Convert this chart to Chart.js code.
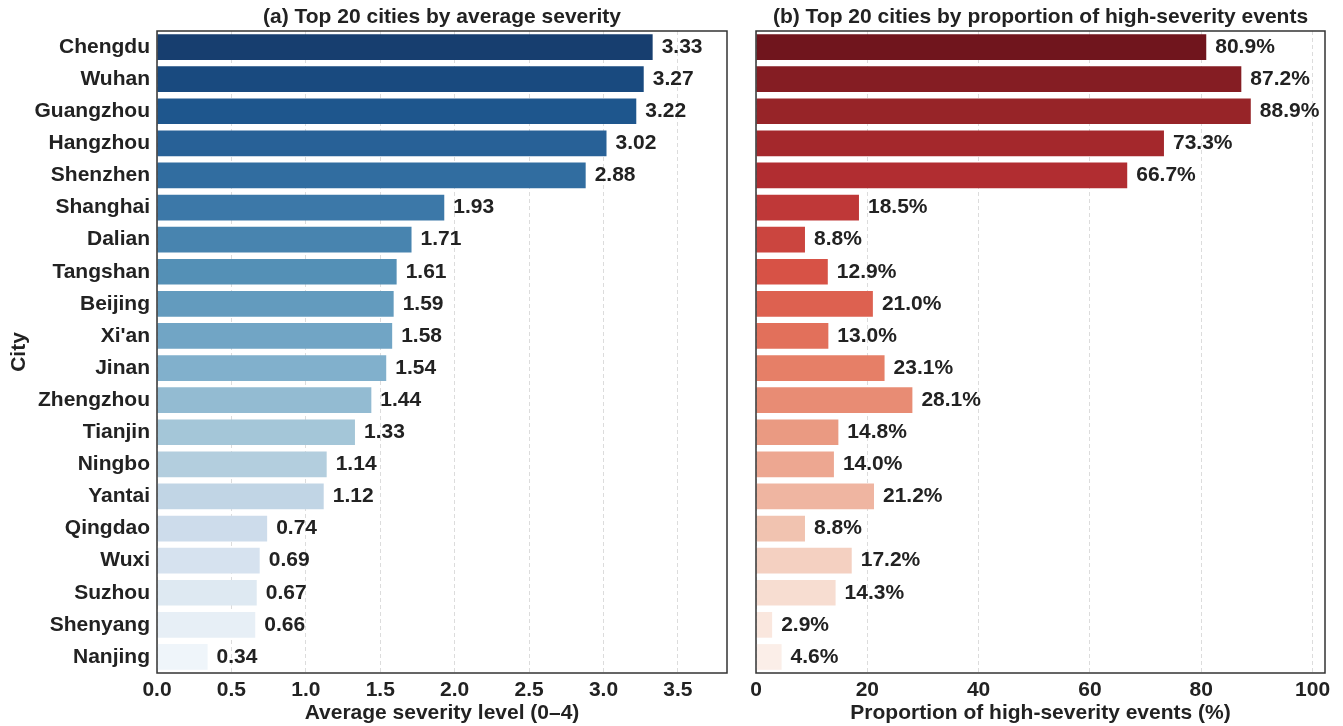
<!DOCTYPE html>
<html>
<head>
<meta charset="utf-8">
<script src="https://cdn.jsdelivr.net/npm/chart.js@4/dist/chart.umd.min.js"></script>
<style>
  html, body { margin: 0; padding: 0; background: #ffffff; }
  #wrap { position: relative; width: 1343px; height: 726px; overflow: hidden; }
  canvas { position: absolute; top: 0; }
  #left { left: 0; }
  #right { left: 740px; }
</style>
</head>
<body>
<div id="wrap">
  <canvas id="left" width="740" height="726"></canvas>
  <canvas id="right" width="603" height="726"></canvas>
</div>
<script>
// City order (ranked by average severity)
const cities = ["Chengdu", "Wuhan", "Guangzhou", "Hangzhou", "Shenzhen", "Shanghai", "Dalian",
  "Tangshan", "Beijing", "Xi'an", "Jinan", "Zhengzhou", "Tianjin", "Ningbo", "Yantai",
  "Qingdao", "Wuxi", "Suzhou", "Shenyang", "Nanjing"];

// Panel (a): average severity level, 0–4 scale
const avgSeverity = [3.33, 3.27, 3.22, 3.02, 2.88, 1.93, 1.71, 1.61, 1.59, 1.58, 1.54, 1.44,
  1.33, 1.14, 1.12, 0.74, 0.69, 0.67, 0.66, 0.34];

// Panel (b): share of high-severity events, percent
const highShare = [80.9, 87.2, 88.9, 73.3, 66.7, 18.5, 8.8, 12.9, 21.0, 13.0, 23.1, 28.1,
  14.8, 14.0, 21.2, 8.8, 17.2, 14.3, 2.9, 4.6];

// Axis tick values
const ticksA = [0, 0.5, 1.0, 1.5, 2.0, 2.5, 3.0, 3.5];
const ticksB = [0, 20, 40, 60, 80, 100];

const titleA = "(a) Top 20 cities by average severity";
const titleB = "(b) Top 20 cities by proportion of high-severity events";
const xTitleA = "Average severity level (0\u20134)";
const xTitleB = "Proportion of high-severity events (%)";

// ---- sequential colour maps (matplotlib Blues / Reds anchors) ----
const BLUES = ["#f7fbff", "#deebf7", "#c6dbef", "#9ecae1", "#6baed6", "#4292c6", "#2171b5", "#08519c", "#08306b"];
const REDS  = ["#fff5f0", "#fee0d2", "#fcbba1", "#fc9272", "#fb6a4a", "#ef3b2c", "#cb181d", "#a50f15", "#67000d"];

function hexToRgb(h) {
  return [parseInt(h.slice(1, 3), 16), parseInt(h.slice(3, 5), 16), parseInt(h.slice(5, 7), 16)];
}
function sampleMap(anchors, t) {
  const n = anchors.length - 1;
  const p = Math.min(Math.max(t, 0), 1) * n;
  const i = Math.min(Math.floor(p), n - 1);
  const f = p - i;
  const a = hexToRgb(anchors[i]), b = hexToRgb(anchors[i + 1]);
  return a.map((v, k) => (v + (b[k] - v) * f) / 255);
}
// scale HLS saturation of an rgb triple (0..1) by `factor`
function desaturate(rgb, factor) {
  const [r, g, b] = rgb;
  const mx = Math.max(r, g, b), mn = Math.min(r, g, b);
  const l = (mx + mn) / 2;
  if (mx === mn) return rgb;
  const d = mx - mn;
  let s = l <= 0.5 ? d / (mx + mn) : d / (2 - mx - mn);
  s *= factor;
  const m2 = l <= 0.5 ? l * (1 + s) : l + s - l * s;
  const m1 = 2 * l - m2;
  // keep hue: map each channel's relative position between min and max
  return rgb.map(v => m1 + (m2 - m1) * (v - mn) / d);
}
// reversed, evenly spaced palette that skips both ends of the map
function paletteReversed(anchors, count) {
  const out = [];
  for (let i = 0; i < count; i++) {
    const t = (count - i) / (count + 1);
    const c = desaturate(sampleMap(anchors, t), 0.75).map(v => Math.round(v * 255));
    out.push(`rgb(${c[0]},${c[1]},${c[2]})`);
  }
  return out;
}

const FONT = "'Liberation Sans', Arial, Helvetica, sans-serif";
const TEXT = "#222222";
const FS = 21;

// Frame around the plotting area plus a centred panel heading
const framePlugin = {
  id: "frame",
  afterDraw(chart, args, opts) {
    const { ctx, chartArea: a } = chart;
    ctx.save();
    ctx.strokeStyle = "#333333";
    ctx.lineWidth = 1.5;
    ctx.strokeRect(a.left, a.top, a.right - a.left, a.bottom - a.top);
    ctx.fillStyle = TEXT;
    ctx.font = `bold ${FS}px ${FONT}`;
    ctx.textAlign = "center";
    ctx.textBaseline = "middle";
    ctx.fillText(opts.heading, (a.left + a.right) / 2, 17);
    ctx.restore();
  }
};

// Value labels at the end of each bar
const valueLabelPlugin = {
  id: "valueLabels",
  afterDatasetsDraw(chart, args, opts) {
    const { ctx } = chart;
    const meta = chart.getDatasetMeta(0);
    const data = chart.data.datasets[0].data;
    ctx.save();
    ctx.fillStyle = TEXT;
    ctx.font = `bold ${FS}px ${FONT}`;
    ctx.textAlign = "left";
    ctx.textBaseline = "middle";
    meta.data.forEach((bar, i) => {
      ctx.fillText(opts.format(data[i]), bar.x + 9, bar.y);
    });
    ctx.restore();
  }
};

function makeChart(canvasId, values, colors, cfg) {
  return new Chart(document.getElementById(canvasId), {
    type: "bar",
    data: {
      labels: cities,
      datasets: [{
        data: values,
        backgroundColor: colors,
        borderWidth: 0,
        categoryPercentage: 0.8,
        barPercentage: 1.0
      }]
    },
    plugins: [framePlugin, valueLabelPlugin],
    options: {
      indexAxis: "y",
      responsive: false,
      animation: false,
      devicePixelRatio: 1,
      layout: { padding: { top: 31, right: cfg.padRight, left: 0, bottom: 0 } },
      plugins: {
        legend: { display: false },
        tooltip: { enabled: false },
        title: { display: false },
        frame: { heading: cfg.heading },
        valueLabels: { format: cfg.format }
      },
      scales: {
        x: {
          type: "linear",
          min: 0,
          max: cfg.xMax,
          afterBuildTicks: s => { s.ticks = cfg.ticks.map(v => ({ value: v })); },
          afterFit: s => { s.height = 53; },
          ticks: {
            color: TEXT,
            font: { family: FONT, size: FS, weight: "bold" },
            padding: 5,
            callback: cfg.tickFormat
          },
          grid: { color: "#dcdcdc", lineWidth: 1, drawTicks: false },
          border: { display: false, dash: [4, 3] },
          title: {
            display: true,
            text: cfg.xTitle,
            color: TEXT,
            font: { family: FONT, size: FS, weight: "bold" },
            padding: { top: 0, bottom: 0 }
          }
        },
        y: {
          type: "category",
          offset: true,
          afterFit: s => { s.width = cfg.yWidth; },
          ticks: {
            display: cfg.showY,
            color: TEXT,
            font: { family: FONT, size: FS, weight: "bold" },
            padding: 7
          },
          grid: { display: false, drawTicks: false },
          border: { display: false },
          title: {
            display: cfg.showY,
            text: "City",
            color: TEXT,
            font: { family: FONT, size: FS, weight: "bold" },
            padding: { top: 7, bottom: 0 }
          }
        }
      }
    }
  });
}

makeChart("left", avgSeverity, paletteReversed(BLUES, cities.length), {
  heading: titleA,
  xTitle: xTitleA,
  xMax: Math.max(...avgSeverity) * 1.15,
  ticks: ticksA,
  tickFormat: v => Number(v).toFixed(1),
  format: v => v.toFixed(2),
  yWidth: 157,
  padRight: 13,
  showY: true
});

makeChart("right", highShare, paletteReversed(REDS, cities.length), {
  heading: titleB,
  xTitle: xTitleB,
  xMax: Math.max(...highShare) * 1.15,
  ticks: ticksB,
  tickFormat: v => String(Math.round(v)),
  format: v => v.toFixed(1) + "%",
  yWidth: 16,
  padRight: 18,
  showY: false
});
</script>
</body>
</html>
